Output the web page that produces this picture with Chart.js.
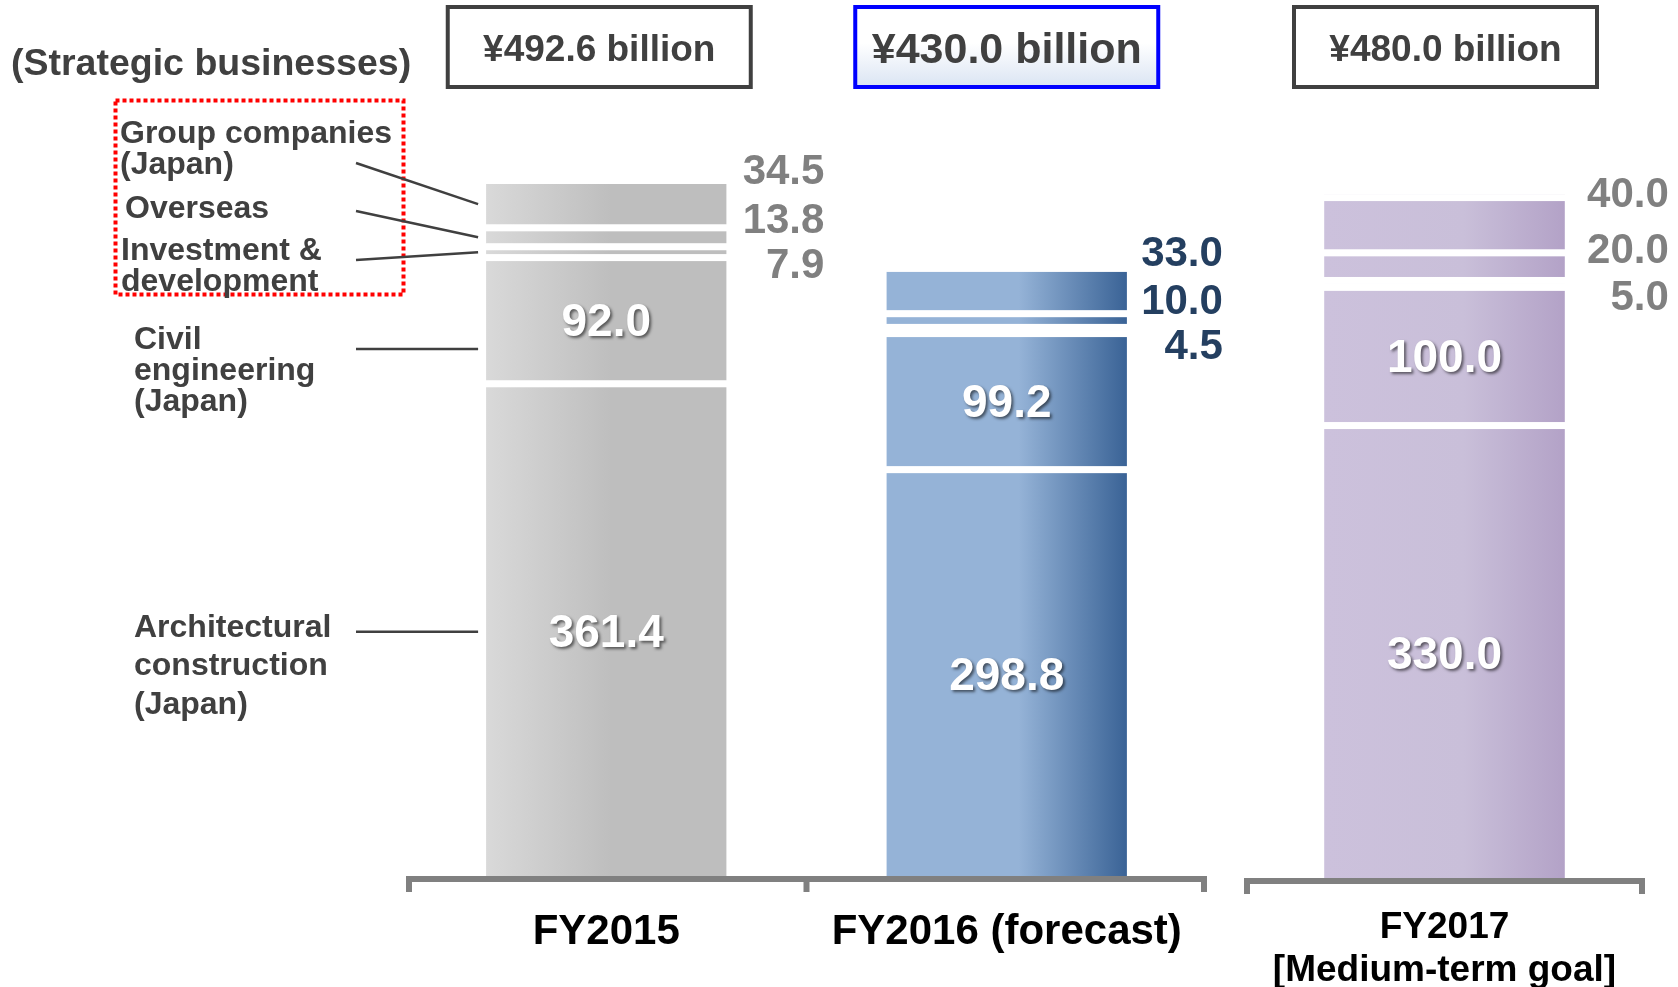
<!DOCTYPE html>
<html>
<head>
<meta charset="utf-8">
<title>Strategic businesses</title>
<script src="https://cdn.jsdelivr.net/npm/chart.js"></script>
<style>
  html, body { margin: 0; padding: 0; background: #fff; }
  #wrap { position: relative; width: 1678px; height: 987px; overflow: hidden; }
  #mainChart { position: absolute; left: 0; top: 0; }
  #goalChart { position: absolute; left: 1230px; top: 0; }
</style>
</head>
<body>
<div id="wrap">
  <canvas id="mainChart" width="1230" height="987"></canvas>
  <canvas id="goalChart" width="448" height="987"></canvas>
</div>
<script>
// data (billion yen)
var years = [['FY2015'], ['FY2016 (forecast)'], ['FY2017', '[Medium-term goal]']];
var totals = [492.6, 430.0, 480.0];
var architectural = [361.4, 298.8, 330.0];
var civil = [92.0, 99.2, 100.0];
var investment = [7.9, 4.5, 5.0];
var overseas = [13.8, 10.0, 20.0];
var groupCompanies = [34.5, 33.0, 40.0];

// stack order, bottom to top
var segmentNames = ['Architectural construction (Japan)', 'Civil engineering (Japan)', 'Investment & development', 'Overseas', 'Group companies (Japan)'];
var segmentLines = [['Architectural', 'construction', '(Japan)'], ['Civil', 'engineering', '(Japan)'], ['Investment &', 'development'], ['Overseas'], ['Group companies', '(Japan)']];
var segmentValues = [architectural, civil, investment, overseas, groupCompanies];

// styles
var FONT = '"Liberation Sans", Arial, sans-serif';
var DARK = '#404040';
var GAP = 7;
var BAR_PCT = 0.6;
var TY = 3; // text baseline nudge
var highlight = 1;
var barFills = [
  [[0, '#d9d9d9'], [0.52, '#bebebe'], [1, '#bebebe']],
  [[0, '#95b3d7'], [0.55, '#95b3d7'], [1, '#3a6396']],
  [[0, '#ccc1dc'], [0.58, '#c9bfd9'], [1, '#b3a2c7']]
];
var sideColors = ['#808080', '#243f60', '#808080'];
var sideNudge = [{dx: 98, dy: [-8, 41, 86]}, {dx: 96, dy: [-14, 34, 79]}, {dx: 104, dy: [-2, 54, 101]}];
var boxNudge = [-7, 0, 1];
var labelPos = [{x: 134, y: [625, 663, 702]}, {x: 134, y: [337, 368, 399]}, {x: 121, y: [248, 279]}, {x: 125, y: [206]}, {x: 120, y: [131, 162]}];
var leaderY = [null, 349, 260, 211, 163];

function barFill(idx) {
    return function (c) {
        var chart = c.chart;
        var stops = barFills[idx[c.dataIndex]];
        if (!chart.chartArea) return stops[0][1];
        var xs = chart.scales.x;
        var half = xs.width / idx.length * BAR_PCT / 2;
        var cx = xs.getPixelForValue(c.dataIndex);
        var g = chart.ctx.createLinearGradient(cx - half, 0, cx + half, 0);
        stops.forEach(function (s) { g.addColorStop(s[0], s[1]); });
        return g;
    };
}

function annotate(idx, opts) {
    return {
        id: 'annotate',
        afterDatasetsDraw: function (chart) {
            var ctx = chart.ctx;
            var metas = segmentValues.map(function (v, d) { return chart.getDatasetMeta(d); });
            ctx.save();
            // white gaps between segments
            ctx.fillStyle = '#ffffff';
            metas.forEach(function (m) {
                m.data.forEach(function (el) {
                    ctx.fillRect(el.x - el.width / 2 - 1, el.y, el.width + 2, GAP);
                });
            });
            // values inside the two big segments
            ctx.font = 'bold 46px ' + FONT;
            ctx.textAlign = 'center';
            ctx.textBaseline = 'middle';
            ctx.fillStyle = '#ffffff';
            ctx.shadowColor = 'rgba(0,0,0,0.55)';
            ctx.shadowOffsetX = 2;
            ctx.shadowOffsetY = 2;
            ctx.shadowBlur = 3;
            [0, 1].forEach(function (d) {
                metas[d].data.forEach(function (el, i) {
                    var yMid = (el.y + GAP + el.base) / 2;
                    ctx.fillText(segmentValues[d][idx[i]].toFixed(1), el.x, yMid + TY);
                });
            });
            ctx.shadowColor = 'transparent';
            // small segment values at the side
            ctx.font = 'bold 42px ' + FONT;
            ctx.textAlign = 'right';
            metas[4].data.forEach(function (el, i) {
                var k = idx[i];
                var right = el.x + el.width / 2 + sideNudge[k].dx;
                ctx.fillStyle = sideColors[k];
                [groupCompanies, overseas, investment].forEach(function (arr, j) {
                    ctx.fillText(arr[k].toFixed(1), right, el.y + sideNudge[k].dy[j] + TY);
                });
            });
            ctx.restore();
        },
        afterDraw: function (chart) {
            var ctx = chart.ctx;
            var a = chart.chartArea;
            var base = chart.getDatasetMeta(0).data;
            ctx.save();
            // bracket under the bars
            ctx.fillStyle = '#808080';
            ctx.fillRect(a.left, a.bottom, a.right - a.left, 6);
            var slot = (a.right - a.left) / idx.length;
            for (var i = 0; i <= idx.length; i++) {
                var x = a.left + i * slot;
                var tx = i === 0 ? x : (i === idx.length ? x - 6 : x - 3);
                ctx.fillRect(tx, a.bottom, 6, 16);
            }
            // category labels
            ctx.fillStyle = '#000000';
            ctx.textAlign = 'center';
            ctx.textBaseline = 'middle';
            ctx.font = 'bold ' + opts.catSize + 'px ' + FONT;
            base.forEach(function (el, i) {
                years[idx[i]].forEach(function (line, j) {
                    ctx.fillText(line, el.x, a.bottom + opts.catY[j] + TY);
                });
            });
            // total boxes
            base.forEach(function (el, i) {
                var k = idx[i];
                var cx = el.x + boxNudge[k];
                var left = cx - 151.5;
                if (k === highlight) {
                    var g = ctx.createLinearGradient(0, 7, 0, 87);
                    g.addColorStop(0, '#ffffff');
                    g.addColorStop(0.45, '#ffffff');
                    g.addColorStop(1, '#dae4f3');
                    ctx.fillStyle = g;
                } else {
                    ctx.fillStyle = '#ffffff';
                }
                ctx.fillRect(left, 7, 303, 80);
                ctx.lineWidth = 4;
                ctx.strokeStyle = k === highlight ? '#0000ff' : DARK;
                ctx.strokeRect(left, 7, 303, 80);
                ctx.fillStyle = DARK;
                ctx.font = 'bold ' + (k === highlight ? 43 : 37) + 'px ' + FONT;
                ctx.fillText('\u00a5' + totals[k].toFixed(1) + ' billion', cx, 48 + TY);
            });
            if (opts.legend) {
                ctx.textAlign = 'left';
                ctx.fillStyle = DARK;
                ctx.font = 'bold 37.5px ' + FONT;
                ctx.fillText('(Strategic businesses)', 11, 62 + TY);
                // dotted frame around the strategic businesses
                ctx.strokeStyle = '#ff0000';
                ctx.lineWidth = 4;
                ctx.setLineDash([4, 3]);
                ctx.strokeRect(115.5, 100.5, 288, 194);
                ctx.setLineDash([]);
                ctx.font = 'bold 32px ' + FONT;
                ctx.fillStyle = DARK;
                segmentLines.forEach(function (lines, d) {
                    lines.forEach(function (line, j) {
                        ctx.fillText(line, labelPos[d].x, labelPos[d].y[j] + TY);
                    });
                });
                // leader lines to the FY2015 bar
                ctx.strokeStyle = DARK;
                ctx.lineWidth = 2.5;
                segmentValues.forEach(function (v, d) {
                    var el = chart.getDatasetMeta(d).data[0];
                    var mid = (el.y + GAP + el.base) / 2;
                    var y0 = leaderY[d] === null ? mid : leaderY[d];
                    var y1 = d === 1 || d === 0 ? y0 : mid;
                    ctx.beginPath();
                    ctx.moveTo(356, y0);
                    ctx.lineTo(el.x - el.width / 2 - 8, y1);
                    ctx.stroke();
                });
            }
            ctx.restore();
        }
    };
}

function makeChart(id, idx, padding, opts) {
    var datasets = segmentValues.map(function (values, d) {
        return {
            label: segmentNames[d],
            data: idx.map(function (i) { return values[i]; }),
            backgroundColor: barFill(idx),
            borderWidth: 0,
            barPercentage: BAR_PCT,
            categoryPercentage: 1
        };
    });
    return new Chart(document.getElementById(id).getContext('2d'), {
        type: 'bar',
        data: {
            labels: idx.map(function (i) { return years[i].join(' '); }),
            datasets: datasets
        },
        options: {
            responsive: false,
            animation: false,
            events: [],
            layout: { padding: padding },
            plugins: { legend: { display: false }, tooltip: { enabled: false } },
            scales: {
                x: { stacked: true, display: false },
                y: { stacked: true, display: false, min: 0, max: 600 }
            }
        },
        plugins: [annotate(idx, opts)]
    });
}

makeChart('mainChart', [0, 1], { left: 406, right: 23, top: 53, bottom: 111 }, { catSize: 42, catY: [53], legend: true });
makeChart('goalChart', [2], { left: 14, right: 33, top: 49, bottom: 109 }, { catSize: 37, catY: [47, 90], legend: false });
</script>
</body>
</html>
